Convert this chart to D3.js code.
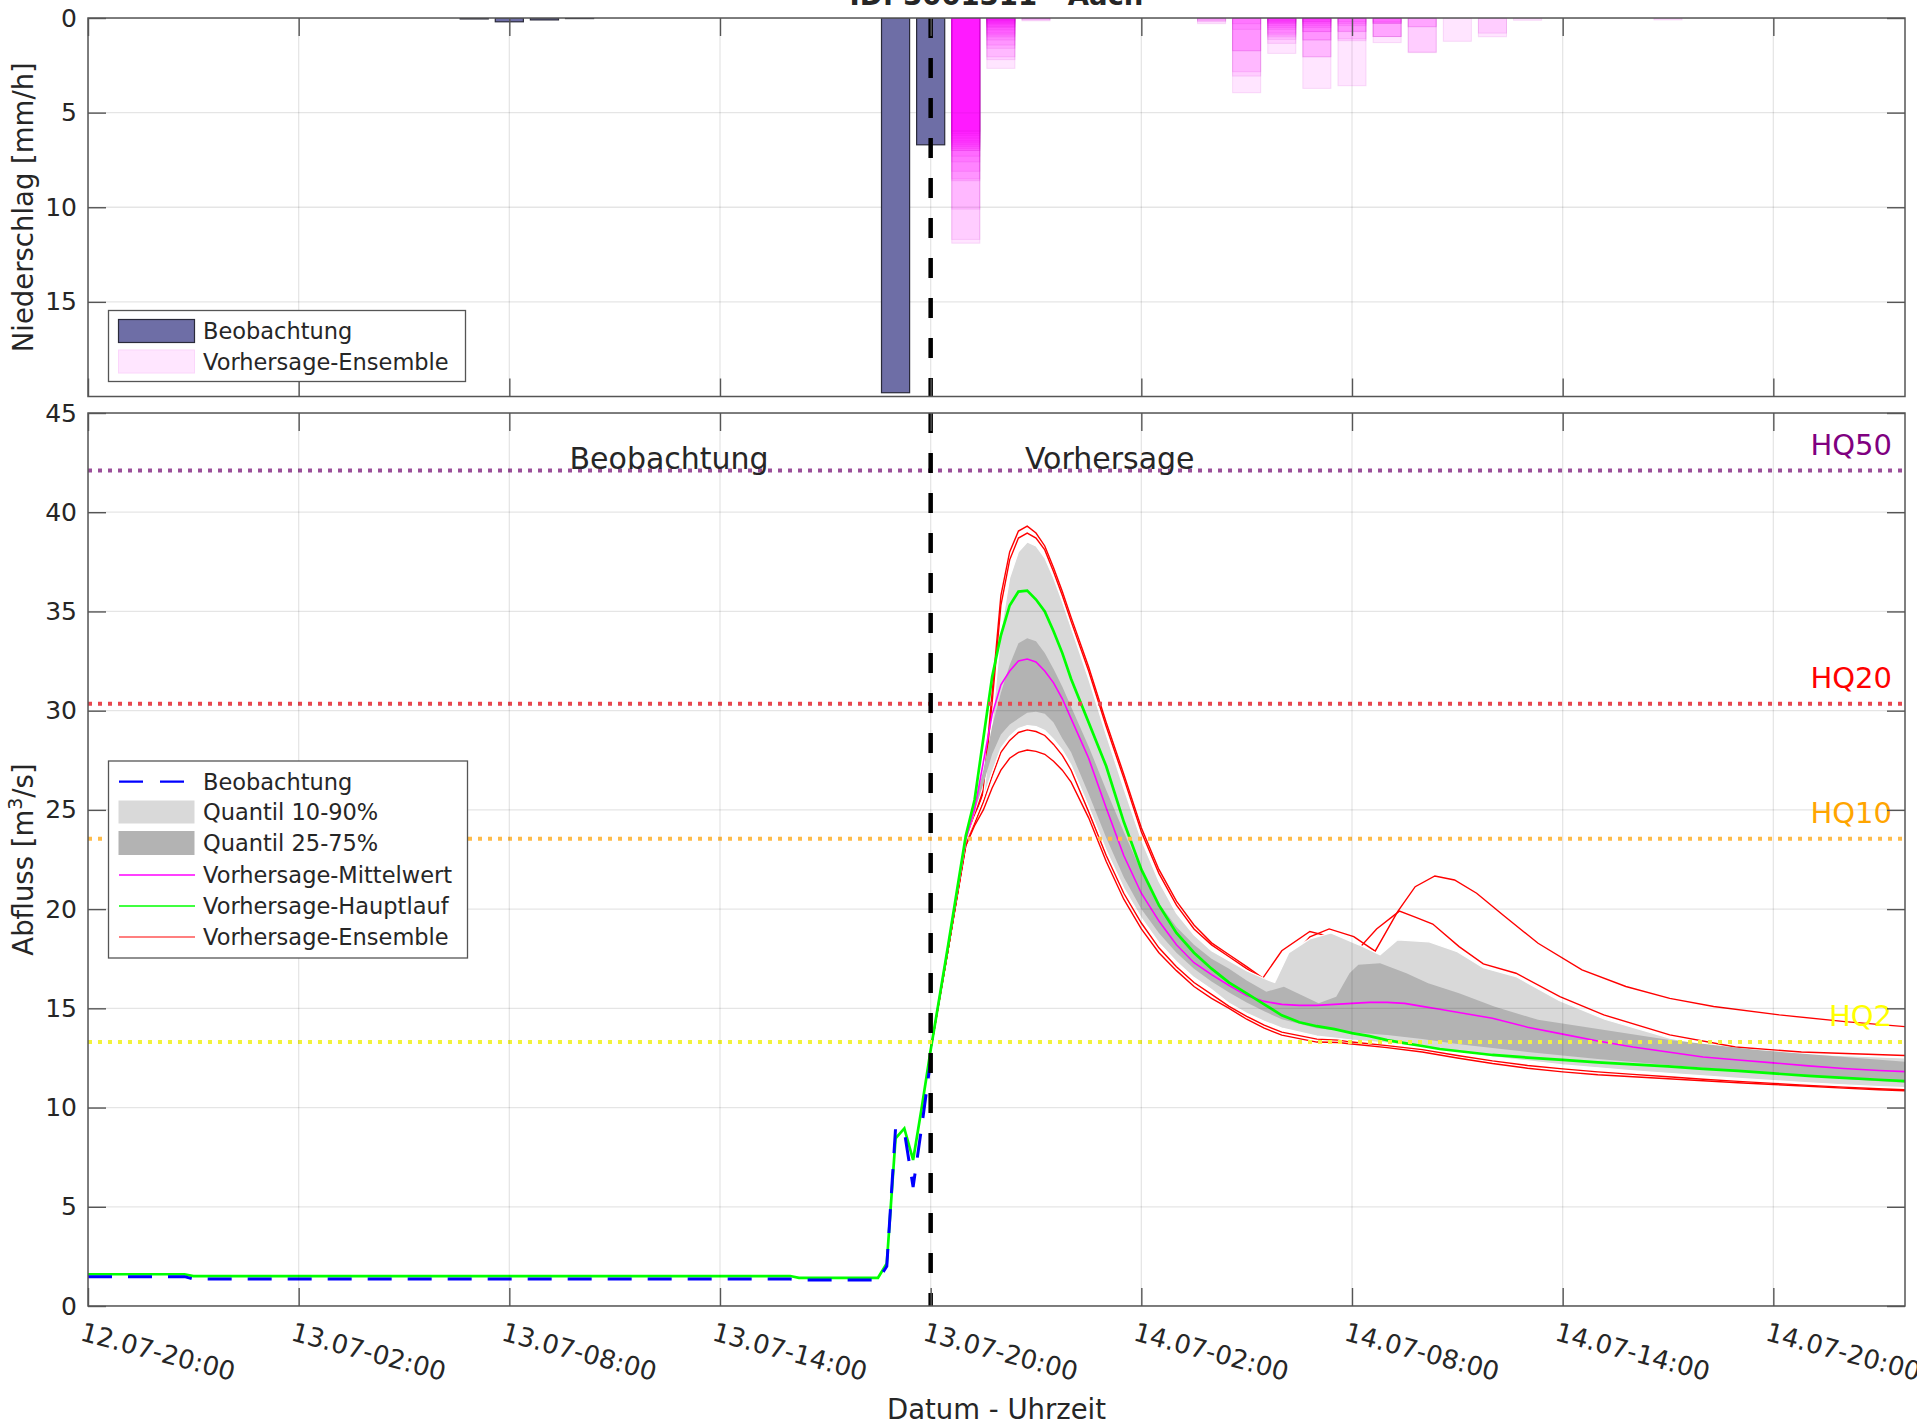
<!DOCTYPE html>
<html><head><meta charset="utf-8">
<script src="https://cdn.jsdelivr.net/npm/d3@7"></script>
<style>
body{margin:0;background:#fff}
text{font-family:"DejaVu Sans",sans-serif;fill:#262626}
</style></head>
<body><svg id="c" width="1917" height="1421"></svg>
<script>
// ---------------- DATA (hours after 12.07 20:00) ----------------
const xTickHours = [0, 6, 12, 18, 24, 30, 36, 42, 48];
const precipTicks = [0, 5, 10, 15];
const flowTicks = [0, 5, 10, 15, 20, 25, 30, 35, 40, 45];
const forecastStart = 24;

// observed precipitation [mm/h]
const obsPrecipHours = [11, 12, 13, 14, 23, 24];
const obsPrecip = [0.05, 0.2, 0.1, 0.03, 19.8, 6.7];

// ensemble precipitation: member values per forecast hour [mm/h]
const ensPrecipHours = [25, 26, 27, 32, 33, 34, 35, 36, 37, 38, 39, 40, 41, 45];
const ensPrecip = [
  [11.9, 11.7, 10.1, 8.6, 8.5, 8.1, 7.6, 7.3, 7.0, 7.0, 6.9, 6.8, 6.7, 6.6, 6.5, 6.35, 6.2, 6.1, 6.0, 5.95],
  [2.66, 2.2, 2.05, 1.6, 1.43, 1.16, 1.0, 0.9, 0.8, 0.63, 0.5, 0.45, 0.37, 0.3, 0.25, 0.2, 0.15, 0.1, 0.1, 0.05],
  [0.15, 0.1, 0.05, 0.05],
  [0.3, 0.2, 0.15, 0.1],
  [3.95, 3.07, 2.84, 1.73, 1.73, 0.6, 0.3],
  [1.87, 1.34, 1.13, 1.0, 0.9, 0.8, 0.6, 0.5, 0.4, 0.3, 0.25, 0.2, 0.15, 0.1],
  [3.72, 2.05, 2.05, 1.16, 1.16, 0.72, 0.72, 0.5, 0.4, 0.3, 0.2, 0.2, 0.1],
  [3.58, 1.2, 1.1, 0.72, 0.7, 0.4, 0.3, 0.2],
  [1.3, 0.98, 0.98, 0.98, 0.28, 0.28, 0.28, 0.2],
  [1.83, 1.8, 0.46, 0.46],
  [1.23],
  [0.99, 0.8],
  [0.12],
  [0.1]
];

// observed discharge [m3/s]  [hour, value]
const obsFlow = [[0,1.48],[2.75,1.48],[3,1.36],[20,1.36],[20.25,1.31],[22.5,1.31],[22.75,2.0],[23,8.95],[23.25,8.8],[23.5,6.0],[23.75,9.1],[24,12.4]];

// main run (Hauptlauf)
const mainRun = [[0,1.6],[2.75,1.6],[3,1.51],[20,1.51],[20.25,1.42],[22.5,1.42],[22.75,2.15],[23,8.45],[23.25,8.95],[23.5,7.36],[23.75,10.05],[24,12.9],[24.5,18.2],[25,23.7],[25.25,25.5],[25.5,28.6],[25.75,31.7],[26,33.8],[26.25,35.3],[26.5,36.0],[26.75,36.05],[27,35.6],[27.25,35.0],[27.5,34.0],[27.75,32.9],[28,31.6],[28.5,29.4],[29,27.2],[29.5,24.4],[30,22.0],[30.5,20.2],[31,18.8],[31.5,17.8],[32,17.0],[32.5,16.3],[33,15.75],[33.5,15.2],[34,14.65],[34.5,14.3],[35,14.1],[35.5,13.95],[36,13.75],[36.5,13.6],[37,13.4],[37.5,13.25],[38,13.1],[38.5,12.95],[39,12.85],[39.5,12.75],[40,12.65],[41,12.52],[42,12.4],[43,12.28],[44,12.18],[45,12.08],[46,11.95],[47,11.85],[48,11.72],[49,11.6],[50,11.5],[51,11.4],[51.75,11.33]];

// ensemble mean
const ensMean = [[24,12.9],[24.5,18.2],[25,23.5],[25.25,25.0],[25.5,27.4],[25.75,29.8],[26,31.3],[26.25,32.0],[26.5,32.5],[26.75,32.6],[27,32.45],[27.25,32.0],[27.5,31.4],[27.75,30.6],[28,29.6],[28.5,27.6],[29,25.1],[29.5,22.7],[30,20.8],[30.5,19.4],[31,18.2],[31.5,17.3],[32,16.7],[32.5,16.15],[33,15.65],[33.5,15.35],[34,15.2],[34.5,15.15],[35,15.15],[35.5,15.2],[36,15.25],[36.5,15.3],[37,15.3],[37.5,15.25],[38,15.1],[38.5,14.95],[39,14.8],[39.5,14.65],[40,14.5],[41,14.05],[42,13.7],[43,13.35],[44,13.05],[45,12.8],[46,12.55],[47,12.4],[48,12.25],[49,12.1],[50,11.97],[51,11.87],[51.75,11.81]];

// quantiles
const q90 = [[24,12.9],[24.5,18.1],[25,23.4],[25.25,24.6],[25.5,25.6],[25.75,29.3],[26,34.0],[26.25,36.7],[26.5,38.0],[26.75,38.5],[27,38.3],[27.25,37.7],[27.5,36.7],[27.75,35.5],[28,34.2],[28.5,31.6],[29,28.8],[29.5,26.1],[30,23.5],[30.5,21.4],[31,19.8],[31.5,18.7],[32,17.9],[32.5,17.4],[33,16.9],[33.5,16.5],[33.8,16.3],[34.2,17.8],[34.8,18.5],[35.4,18.8],[36.2,18.2],[36.8,17.7],[37.3,18.45],[38.2,18.35],[39,17.85],[39.74,17.05],[40.67,16.6],[41.9,15.4],[43.2,14.45],[45.05,13.5],[46.9,12.9],[48.8,12.7],[51.75,12.5]];
const q75 = [[24,12.9],[24.5,18.2],[25,23.6],[25.25,25.3],[25.5,27.0],[25.75,29.2],[26,30.9],[26.25,32.3],[26.5,33.4],[26.75,33.65],[27,33.5],[27.25,32.9],[27.5,32.1],[27.75,31.2],[28,30.2],[28.5,28.2],[29,26.0],[29.5,23.9],[30,21.9],[30.5,20.3],[31,19.1],[31.5,18.2],[32,17.5],[32.5,17.0],[33,16.4],[33.56,15.84],[34.06,16.09],[35.05,15.25],[35.55,15.59],[35.93,16.77],[36.18,17.19],[36.8,17.27],[37.55,16.77],[38.17,16.26],[39.05,15.76],[40.05,15.09],[41.3,14.42],[42.55,14.08],[45.05,13.41],[47.55,12.9],[51.75,12.31]];
const q25 = [[24,12.9],[24.5,18.15],[25,23.5],[25.25,24.9],[25.5,26.3],[25.75,27.8],[26,28.8],[26.25,29.3],[26.5,29.6],[26.75,29.9],[27,29.95],[27.25,29.85],[27.5,29.4],[27.75,28.6],[28,27.9],[28.5,25.8],[29,23.6],[29.5,21.6],[30,20.0],[30.5,18.8],[31,17.8],[31.5,17.0],[32,16.35],[32.5,15.8],[33,15.3],[33.5,14.85],[34,14.45],[35,14.0],[36,13.8],[37,13.65],[38,13.45],[39,13.2],[40,13.0],[41,12.8],[42,12.62],[43,12.45],[44,12.3],[45,12.15],[46,12.0],[47,11.87],[48,11.75],[49,11.6],[50,11.45],[51,11.32],[51.75,11.25]];
const q10 = [[24,12.9],[24.5,18.1],[25,23.4],[25.25,24.5],[25.5,25.6],[25.75,26.9],[26,28.1],[26.25,28.7],[26.5,29.1],[26.75,29.25],[27,29.2],[27.25,29.0],[27.5,28.55],[27.75,28.0],[28,27.25],[28.5,25.15],[29,22.95],[29.5,21.05],[30,19.55],[30.5,18.3],[31,17.35],[31.5,16.55],[32,15.95],[32.5,15.25],[33,14.75],[33.5,14.35],[34,14.0],[35,13.6],[36,13.4],[37,13.25],[38,13.05],[39,12.8],[40,12.55],[41,12.35],[42,12.15],[43,12.0],[44,11.85],[45,11.73],[46,11.6],[47,11.47],[48,11.36],[49,11.25],[50,11.15],[51,11.05],[51.75,11.0]];

// ensemble members (visible outside the quantile band)
const memberA = [[24,12.9],[24.5,18.0],[25,23.3],[25.25,24.6],[25.5,25.9],[25.75,30.4],[26,35.3],[26.25,37.6],[26.5,38.7],[26.75,38.95],[27,38.7],[27.25,38.1],[27.5,37.0],[27.75,35.8],[28,34.5],[28.5,32.0],[29,29.2],[29.5,26.6],[30,23.9],[30.5,21.8],[31,20.2],[31.5,19.0],[32,18.2],[32.5,17.6],[33,17.0],[33.45,16.5],[34,17.9],[34.8,18.87],[35.4,18.6],[36.13,17.88],[36.7,19.0],[37.35,19.9],[37.8,19.6],[38.3,19.25],[39.05,18.11],[39.74,17.24],[40.67,16.77],[41.92,15.59],[43.17,14.67],[45.05,13.66],[46.92,13.05],[48.8,12.8],[51.75,12.62]];
const memberB = [[24,12.9],[24.5,18.0],[25,23.3],[25.25,24.7],[25.5,26.0],[25.75,30.9],[26,35.8],[26.25,38.0],[26.5,39.05],[26.75,39.3],[27,38.95],[27.25,38.3],[27.5,37.2],[27.75,36.0],[28,34.7],[28.5,32.2],[29,29.4],[29.5,26.8],[30,24.1],[30.5,22.0],[31,20.4],[31.5,19.2],[32,18.3],[32.5,17.7],[33,17.1],[33.76,16.15],[34.3,17.6],[34.8,18.6],[35.35,19.0],[36.05,18.61],[36.66,17.88],[37.3,19.87],[37.8,21.13],[38.36,21.67],[38.92,21.47],[39.55,20.8],[40.3,19.7],[41.3,18.28],[42.55,16.94],[43.8,16.1],[45.05,15.5],[46.3,15.09],[48.17,14.67],[50.04,14.33],[51.75,14.08]];
const memberC = [[24,12.9],[24.5,18.0],[25,23.2],[25.25,24.3],[25.5,25.4],[25.75,26.7],[26,27.9],[26.25,28.5],[26.5,28.9],[26.75,29.03],[27,28.95],[27.25,28.75],[27.5,28.3],[27.75,27.75],[28,27.0],[28.5,24.9],[29,22.7],[29.5,20.8],[30,19.3],[30.5,18.05],[31,17.1],[31.5,16.3],[32,15.7],[32.5,15.1],[33,14.6],[33.5,14.15],[34,13.8],[35,13.45],[35.6,13.4],[36,13.3],[37,13.12],[38,12.92],[39,12.62],[40,12.35],[41,12.12],[42,11.95],[43,11.8],[44,11.67],[45,11.55],[46,11.43],[47,11.32],[48,11.22],[49,11.12],[50,11.03],[51,10.95],[51.75,10.9]];
const memberD = [[24,12.9],[24.5,18.0],[25,23.2],[25.25,24.2],[25.5,25.0],[25.75,26.1],[26,27.0],[26.25,27.6],[26.5,27.9],[26.75,28.02],[27,27.95],[27.25,27.8],[27.5,27.45],[27.75,27.0],[28,26.4],[28.5,24.6],[29,22.4],[29.5,20.5],[30,19.0],[30.5,17.8],[31,16.9],[31.5,16.1],[32,15.5],[32.5,15.0],[33,14.45],[33.5,14.0],[34,13.65],[35,13.3],[35.6,13.28],[36,13.2],[37,13.02],[38,12.8],[39,12.5],[40,12.22],[41,11.98],[42,11.8],[43,11.65],[44,11.55],[45,11.45],[46,11.35],[47,11.25],[48,11.16],[49,11.07],[50,10.98],[51,10.9],[51.75,10.85]];
const ensembleMembers = [memberA, memberB, memberC, memberD];

// flood thresholds
const hqNames = ["HQ50", "HQ20", "HQ10", "HQ2"];
const hqValues = [42.1, 30.35, 23.55, 13.3];
const hqColors = ["#800080", "#ff0000", "#ffa500", "#ffff00"];
const hqLineColors = ["#9a4e9a", "#e8474f", "#ffbc4a", "#f2f23c"];

// ---------------- LAYOUT ----------------
const t0 = new Date(2021, 6, 12, 20, 0);
const H = h => new Date(t0.getTime() + h * 3600e3);
const L = 88, R = 1905;
const pTop = 18, pBot = 396.5, qTop = 413, qBot = 1306;
const x = d3.scaleTime().domain([H(0), H(51.75)]).range([L, R]);
const yP = d3.scaleLinear().domain([0, 20]).range([pTop, pBot]);
const yQ = d3.scaleLinear().domain([0, 45]).range([qBot, qTop]);
const tickDates = xTickHours.map(H);
const TL = 18;

const svg = d3.select("#c");
const defs = svg.append("defs");
defs.append("clipPath").attr("id", "clipP").append("rect").attr("x", L).attr("y", pTop).attr("width", R - L).attr("height", pBot - pTop);
defs.append("clipPath").attr("id", "clipQ").append("rect").attr("x", L).attr("y", qTop).attr("width", R - L).attr("height", qBot - qTop);

function frame(y, top, bot, yTicks, showXLabels) {
  const g = svg.append("g");
  g.append("g").attr("transform", `translate(0,${bot})`)
    .call(d3.axisBottom(x).tickValues(tickDates).tickSize(-TL).tickFormat(""));
  g.append("g").attr("transform", `translate(0,${top})`)
    .call(d3.axisTop(x).tickValues(tickDates).tickSize(-TL).tickFormat(""));
  g.append("g").attr("transform", `translate(${L},0)`)
    .call(d3.axisLeft(y).tickValues(yTicks).tickSize(-TL).tickPadding(11));
  g.append("g").attr("transform", `translate(${R},0)`)
    .call(d3.axisRight(y).tickValues(yTicks).tickSize(-TL).tickFormat(""));
  g.selectAll(".domain").remove();
  g.selectAll(".tick line").attr("stroke", "#555").attr("stroke-width", 1.4);
  g.selectAll(".tick text").attr("font-size", 25).attr("fill", "#262626").attr("font-family", "DejaVu Sans");
  g.append("rect").attr("x", L).attr("y", top).attr("width", R - L).attr("height", bot - top)
    .attr("fill", "none").attr("stroke", "#555").attr("stroke-width", 1.5);
  if (showXLabels) {
    g.selectAll(".xl").data(tickDates).enter().append("text")
      .attr("transform", d => `translate(${x(d) - 9},${bot + 34}) rotate(15)`)
      .attr("font-size", 26)
      .text(d3.timeFormat("%d.%m-%H:%M"));
  }
}
function grid(y, top, bot, yTicks, clip) {
  const g = svg.append("g").attr("clip-path", clip);
  g.selectAll(".gv").data(tickDates).enter().append("line")
    .attr("x1", d => x(d)).attr("x2", d => x(d)).attr("y1", top).attr("y2", bot);
  g.selectAll(".gh").data(yTicks).enter().append("line")
    .attr("x1", L).attr("x2", R).attr("y1", d => y(d)).attr("y2", d => y(d));
  g.selectAll("line").attr("stroke", "rgba(0,0,0,0.1)").attr("stroke-width", 1.3);
}

// ---------------- TOP PANEL ----------------
grid(yP, pTop, pBot, precipTicks, "url(#clipP)");
const gP = svg.append("g").attr("clip-path", "url(#clipP)");
const barHalf = 0.4;
ensPrecipHours.forEach((h, i) => {
  gP.selectAll(null).data(ensPrecip[i]).enter().append("rect")
    .attr("x", x(H(h - barHalf))).attr("width", x(H(h + barHalf)) - x(H(h - barHalf)))
    .attr("y", yP(0)).attr("height", d => yP(d) - yP(0))
    .attr("fill", "rgba(255,0,255,0.1)").attr("stroke", "rgba(200,0,200,0.12)").attr("stroke-width", 1);
});
gP.selectAll(".ob").data(obsPrecipHours).enter().append("rect")
  .attr("x", h => x(H(h - barHalf))).attr("width", h => x(H(h + barHalf)) - x(H(h - barHalf)))
  .attr("y", yP(0)).attr("height", (h, i) => yP(obsPrecip[i]) - yP(0))
  .attr("fill", "#6e6ea6").attr("stroke", "#2a2a3a").attr("stroke-width", 1.2);
gP.append("line").attr("x1", x(H(forecastStart))).attr("x2", x(H(forecastStart)))
  .attr("y1", pTop).attr("y2", pBot).attr("stroke", "#000").attr("stroke-width", 4.5).attr("stroke-dasharray", "20,20");
frame(yP, pTop, pBot, precipTicks, false);

// legend top
{
  const g = svg.append("g");
  g.append("rect").attr("x", 108.5).attr("y", 310.5).attr("width", 357).attr("height", 71)
    .attr("fill", "#fff").attr("stroke", "#555").attr("stroke-width", 1.3);
  g.append("rect").attr("x", 118.5).attr("y", 319.5).attr("width", 76).attr("height", 23)
    .attr("fill", "#6e6ea6").attr("stroke", "#2a2a3a").attr("stroke-width", 1.2);
  g.append("rect").attr("x", 118.5).attr("y", 350).attr("width", 76).attr("height", 23)
    .attr("fill", "#ffe6ff").attr("stroke", "#fbd6fb").attr("stroke-width", 1);
  g.append("text").attr("x", 203).attr("y", 339).attr("font-size", 22.5).text("Beobachtung");
  g.append("text").attr("x", 203).attr("y", 369.5).attr("font-size", 22.5).text("Vorhersage-Ensemble");
}

// ---------------- BOTTOM PANEL ----------------
const gQ = svg.append("g").attr("clip-path", "url(#clipQ)");
const line = d3.line().x(d => x(H(d[0]))).y(d => yQ(d[1]));
const bandPath = (lo, hi) => line(hi.concat(lo.slice().reverse())) + "Z";

ensembleMembers.forEach(m => gQ.append("path").attr("d", line(m))
  .attr("fill", "none").attr("stroke", "#ff0000").attr("stroke-width", 1.4));
gQ.append("path").attr("d", bandPath(q10, q90)).attr("fill", "#d9d9d9").attr("stroke", "#fff").attr("stroke-width", 1.2);
gQ.append("path").attr("d", bandPath(q25, q75)).attr("fill", "#b3b3b3").attr("stroke", "none");
gQ.append("path").attr("d", line(ensMean)).attr("fill", "none").attr("stroke", "#ff00ff").attr("stroke-width", 1.6);
gQ.append("path").attr("d", line(mainRun)).attr("fill", "none").attr("stroke", "#00ff00").attr("stroke-width", 2.7);
gQ.append("path").attr("d", line(obsFlow)).attr("fill", "none").attr("stroke", "#0000ff").attr("stroke-width", 3).attr("stroke-dasharray", "24,16");
grid(yQ, qTop, qBot, flowTicks, "url(#clipQ)");

// thresholds
hqValues.forEach((v, i) => {
  gQ.append("line").attr("x1", L).attr("x2", R).attr("y1", yQ(v)).attr("y2", yQ(v))
    .attr("stroke", hqLineColors[i]).attr("stroke-width", 4).attr("stroke-dasharray", "4,6");
  svg.append("text").attr("x", R - 13).attr("y", yQ(v) - 16).attr("text-anchor", "end")
    .attr("font-size", 29).style("fill", hqColors[i]).text(hqNames[i]);
});
gQ.append("line").attr("x1", x(H(forecastStart))).attr("x2", x(H(forecastStart)))
  .attr("y1", qTop).attr("y2", qBot).attr("stroke", "#000").attr("stroke-width", 4.5).attr("stroke-dasharray", "20,20");
svg.append("text").attr("x", x(H(16.55))).attr("y", yQ(42.1) - 2).attr("text-anchor", "middle").attr("font-size", 30).text("Beobachtung");
svg.append("text").attr("x", x(H(29.1))).attr("y", yQ(42.1) - 2).attr("text-anchor", "middle").attr("font-size", 30).text("Vorhersage");
frame(yQ, qTop, qBot, flowTicks, true);

// legend bottom
{
  const g = svg.append("g");
  g.append("rect").attr("x", 108.5).attr("y", 761).attr("width", 359).attr("height", 197)
    .attr("fill", "#fff").attr("stroke", "#555").attr("stroke-width", 1.3);
  const rows = [781.7, 812, 843, 875, 906, 937];
  const labels = ["Beobachtung", "Quantil 10-90%", "Quantil 25-75%", "Vorhersage-Mittelwert", "Vorhersage-Hauptlauf", "Vorhersage-Ensemble"];
  g.append("line").attr("x1", 119).attr("x2", 195).attr("y1", rows[0]).attr("y2", rows[0])
    .attr("stroke", "#0000ff").attr("stroke-width", 2.2).attr("stroke-dasharray", "24,17");
  g.append("rect").attr("x", 118.5).attr("y", 800.5).attr("width", 76).attr("height", 23).attr("fill", "#d9d9d9");
  g.append("rect").attr("x", 118.5).attr("y", 831).attr("width", 76).attr("height", 24).attr("fill", "#b3b3b3");
  [["#ff00ff", 1.4, 3], ["#00ff00", 1.4, 4], ["#ff0000", 1.2, 5]].forEach(([c, w, r]) =>
    g.append("line").attr("x1", 119).attr("x2", 195).attr("y1", rows[r]).attr("y2", rows[r]).attr("stroke", c).attr("stroke-width", w));
  labels.forEach((t, i) => g.append("text").attr("x", 203).attr("y", rows[i] + 8).attr("font-size", 22.5).text(t));
}

// titles / axis labels
svg.append("text").attr("x", (L + R) / 2).attr("y", 5).attr("text-anchor", "middle")
  .attr("font-size", 27.5).attr("font-weight", "bold").text("ID: 3001311 - Aach");
svg.append("text").attr("transform", `translate(33,${(pTop + pBot) / 2}) rotate(-90)`)
  .attr("text-anchor", "middle").attr("font-size", 27.5).text("Niederschlag [mm/h]");
{
  const t = svg.append("text").attr("transform", `translate(33,${(qTop + qBot) / 2}) rotate(-90)`)
    .attr("text-anchor", "middle").attr("font-size", 27.5);
  t.append("tspan").text("Abfluss [m");
  t.append("tspan").attr("font-size", 19).attr("baseline-shift", "super").text("3");
  t.append("tspan").text("/s]");
}
svg.append("text").attr("x", (L + R) / 2).attr("y", 1419).attr("text-anchor", "middle")
  .attr("font-size", 27.5).text("Datum - Uhrzeit");
</script></body></html>
